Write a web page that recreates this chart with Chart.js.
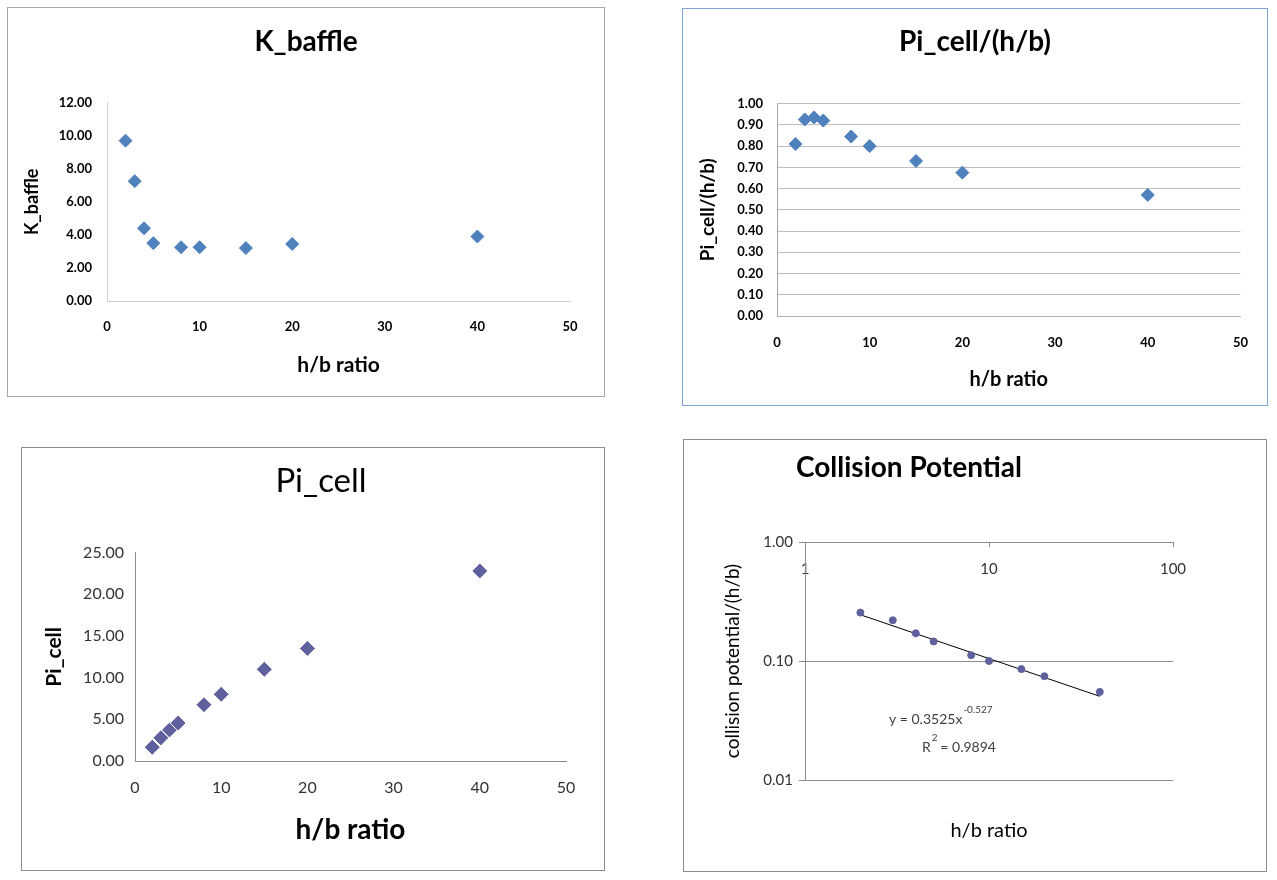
<!DOCTYPE html>
<html>
<head>
<meta charset="utf-8">
<script src="https://cdn.jsdelivr.net/npm/chart.js@4.4.0/dist/chart.umd.min.js"></script>
<style>
    body { margin: 0; background: #fff; width: 1277px; height: 880px; position: relative; overflow: hidden; }
    .box { position: absolute; box-sizing: border-box; border: 1px solid #a6a6a6; background: #fff; }
    .box canvas { position: absolute; left: 0; top: 0; }
</style>
</head>
<body>
<div class="box" style="left:7px; top:7px; width:598px; height:390px;"><canvas id="c_kbaffle" width="596" height="388"></canvas></div>
<div class="box" style="left:682px; top:8px; width:586px; height:398px; border-color:#7fa6d6;"><canvas id="c_pirel" width="584" height="396"></canvas></div>
<div class="box" style="left:21px; top:447px; width:584px; height:424px; border-color:#8c8c8c;"><canvas id="c_picell" width="582" height="422"></canvas></div>
<div class="box" style="left:683px; top:439px; width:584px; height:433px; border-color:#8c8c8c;"><canvas id="c_coll" width="582" height="431"></canvas></div>
<script>
// h/b ratio - the same x values for all four charts
const hb = [2, 3, 4, 5, 8, 10, 15, 20, 40];

const kBaffle = [9.7, 7.25, 4.4, 3.5, 3.25, 3.25, 3.2, 3.45, 3.9];
const piCellRel = [0.81, 0.925, 0.935, 0.92, 0.845, 0.80, 0.73, 0.675, 0.57];
const piCell = [1.65, 2.78, 3.72, 4.55, 6.75, 8.0, 11.0, 13.5, 22.8];
const collision = [0.255, 0.22, 0.171, 0.146, 0.112, 0.100, 0.0855, 0.0745, 0.055];

// power trend line y = 0.3525x^-0.527, its two ends
const trendX = [2, 40];
const trendY = [0.2446, 0.0505];

const xTicksLin = [0, 10, 20, 30, 40, 50];
const yTicksK = [0, 2, 4, 6, 8, 10, 12];
const yTicksRel = [0, 0.1, 0.2, 0.3, 0.4, 0.5, 0.6, 0.7, 0.8, 0.9, 1.0];
const yTicksPi = [0, 5, 10, 15, 20, 25];
const xTicksLog = [1, 10, 100];
const yTicksLog = [0.01, 0.1, 1];

const FONT = "Lato, 'Open Sans', sans-serif";

Chart.defaults.font.family = FONT;
Chart.defaults.color = '#000';
Chart.defaults.animation = false;

function toPoints(xs, ys) {
    let pts = [];
    for (let i = 0; i < xs.length && i < ys.length; i++) {
        pts.push({x: xs[i], y: ys[i]});
    }
    return pts;
}

function fixTicks(values) {
    return function(scale) {
        scale.ticks = values.map(v => ({value: v}));
    }
}

function fixWidth(w) {
    return function(scale) { scale.width = w; }
}

function fixHeight(h) {
    return function(scale) { scale.height = h; }
}

function twoDec(v) {
    return Number(v).toFixed(2);
}

// empty axis on the right, only keeps space so the title stays centred on the whole box
function spacer(w) {
    return {
        type: 'linear', position: 'right',
        afterFit: fixWidth(w),
        grid: {display: false, drawTicks: false},
        border: {display: false},
        ticks: {display: false}
    };
}

// ---------- K_baffle ----------
new Chart(document.getElementById('c_kbaffle'), {
    type: 'scatter',
    data: {
        datasets: [{
            data: toPoints(hb, kBaffle),
            pointStyle: 'rectRot',
            pointRadius: 6.5,
            backgroundColor: '#4f81bd',
            borderColor: '#4f81bd',
            borderWidth: 1
        }]
    },
    options: {
        responsive: false,
        layout: {padding: 0},
        plugins: {
            legend: {display: false},
            tooltip: {enabled: false},
            title: {
                display: true,
                text: 'K_baffle',
                font: {size: 28, weight: 'bold'},
                color: '#000',
                padding: {top: 17, bottom: 44}
            }
        },
        scales: {
            x: {
                type: 'linear', min: 0, max: 50,
                afterBuildTicks: fixTicks(xTicksLin),
                afterFit: fixHeight(95),
                grid: {display: false, drawTicks: false},
                border: {color: '#d0d0d0'},
                ticks: {padding: 18, font: {size: 13, weight: 'bold'}, color: '#000'},
                title: {display: true, text: 'h/b ratio', font: {size: 21, weight: 'bold'}, color: '#000', padding: {top: 0, bottom: 18}}
            },
            y: {
                type: 'linear', min: 0, max: 12,
                afterBuildTicks: fixTicks(yTicksK),
                afterFit: fixWidth(99),
                grid: {display: false, drawTicks: false},
                border: {color: '#d0d0d0'},
                ticks: {padding: 15, font: {size: 13, weight: 'bold'}, color: '#000', callback: twoDec},
                title: {display: true, text: 'K_baffle', font: {size: 18, weight: 'bold'}, color: '#000', padding: {top: 13, bottom: 0}}
            },
            yR: spacer(34)
        }
    }
});

// ---------- Pi_cell/(h/b) ----------
new Chart(document.getElementById('c_pirel'), {
    type: 'scatter',
    data: {
        datasets: [{
            data: toPoints(hb, piCellRel),
            pointStyle: 'rectRot',
            pointRadius: 6.5,
            backgroundColor: '#4f81bd',
            borderColor: '#4f81bd',
            borderWidth: 1
        }]
    },
    options: {
        responsive: false,
        layout: {padding: 0},
        plugins: {
            legend: {display: false},
            tooltip: {enabled: false},
            title: {
                display: true,
                text: 'Pi_cell/(h/b)',
                font: {size: 28, weight: 'bold'},
                color: '#000',
                padding: {top: 16, bottom: 45}
            }
        },
        scales: {
            x: {
                type: 'linear', min: 0, max: 50,
                afterBuildTicks: fixTicks(xTicksLin),
                afterFit: fixHeight(89),
                grid: {display: false, drawTicks: false},
                border: {color: '#b0b0b0'},
                ticks: {padding: 19, font: {size: 13, weight: 'bold'}, color: '#000'},
                title: {display: true, text: 'h/b ratio', font: {size: 20, weight: 'bold'}, color: '#000', padding: {top: 0, bottom: 13}}
            },
            y: {
                type: 'linear', min: 0, max: 1,
                afterBuildTicks: fixTicks(yTicksRel),
                afterFit: fixWidth(94),
                grid: {color: '#bfbfbf', drawTicks: false},
                border: {color: '#a6a6a6'},
                ticks: {padding: 14, font: {size: 13, weight: 'bold'}, color: '#000', callback: twoDec},
                title: {display: true, text: 'Pi_cell/(h/b)', font: {size: 19, weight: 'bold'}, color: '#000', padding: {top: 13, bottom: 0}}
            },
            yR: spacer(19)
        }
    }
});

// ---------- Pi_cell ----------
new Chart(document.getElementById('c_picell'), {
    type: 'scatter',
    data: {
        datasets: [{
            data: toPoints(hb, piCell),
            pointStyle: 'rectRot',
            pointRadius: 8,
            backgroundColor: '#60609e',
            borderColor: '#ffffff',
            borderWidth: 1
        }]
    },
    options: {
        responsive: false,
        layout: {padding: {left: 16, right: 0, top: 0, bottom: 0}},
        plugins: {
            legend: {display: false},
            tooltip: {enabled: false},
            title: {
                display: true,
                text: 'Pi_cell',
                font: {size: 33, weight: 'normal'},
                color: '#000',
                padding: {top: 14, bottom: 51}
            }
        },
        scales: {
            x: {
                type: 'linear', min: 0, max: 50,
                afterBuildTicks: fixTicks(xTicksLin),
                afterFit: fixHeight(109),
                grid: {display: false, drawTicks: false},
                border: {color: '#8c8c8c'},
                ticks: {padding: 17, font: {size: 16}, color: '#333'},
                title: {display: true, text: 'h/b ratio', font: {size: 28, weight: 'bold'}, color: '#000', padding: {top: 0, bottom: 23}}
            },
            y: {
                type: 'linear', min: 0, max: 25,
                afterBuildTicks: fixTicks(yTicksPi),
                afterFit: fixWidth(97),
                grid: {display: false, drawTicks: false},
                border: {color: '#8c8c8c'},
                ticks: {padding: 11, font: {size: 16}, color: '#333', callback: twoDec},
                title: {display: true, text: 'Pi_cell', font: {size: 21, weight: 'bold'}, color: '#000', padding: {top: 4, bottom: 0}}
            },
            yR: spacer(38)
        }
    }
});

// ---------- Collision Potential ----------
// title sits left of centre and the trend line equation under the points
const collisionTexts = {
    id: 'collisionTexts',
    afterDatasetsDraw(chart) {
        const ctx = chart.ctx;
        const a = chart.chartArea;
        ctx.save();
        ctx.textBaseline = 'middle';
        ctx.fillStyle = '#000';
        ctx.font = 'bold 28px ' + FONT;
        ctx.fillText('Collision Potential', a.left - 9, 28);

        ctx.fillStyle = '#404040';
        ctx.font = '14px ' + FONT;
        let x = a.left + 84, y = a.top + 177;
        ctx.fillText('y = 0.3525x', x, y);
        let w = ctx.measureText('y = 0.3525x').width;
        ctx.font = '10px ' + FONT;
        ctx.fillText('-0.527', x + w + 1, y - 9);
        x = a.left + 117; y = a.top + 205;
        ctx.font = '14px ' + FONT;
        ctx.fillText('R', x, y);
        w = ctx.measureText('R').width;
        ctx.font = '10px ' + FONT;
        ctx.fillText('2', x + w + 1, y - 9);
        ctx.font = '14px ' + FONT;
        ctx.fillText(' = 0.9894', x + w + 6, y);
        ctx.restore();
    }
};

new Chart(document.getElementById('c_coll'), {
    type: 'scatter',
    data: {
        datasets: [{
            data: toPoints(hb, collision),
            pointStyle: 'circle',
            pointRadius: 3.5,
            backgroundColor: '#60609e',
            borderColor: '#60609e',
            borderWidth: 1
        }, {
            data: toPoints(trendX, trendY),
            showLine: true,
            pointRadius: 0,
            borderColor: '#000',
            borderWidth: 1
        }]
    },
    plugins: [collisionTexts],
    options: {
        responsive: false,
        layout: {padding: {left: 0, right: 0, top: 102, bottom: 0}},
        plugins: {
            legend: {display: false},
            tooltip: {enabled: false},
            title: {display: false}
        },
        scales: {
            x: {
                type: 'logarithmic', min: 1, max: 100,
                // axis crosses at y = 1, labels hang under it
                position: {y: 1},
                afterBuildTicks: fixTicks(xTicksLog),
                grid: {display: true, drawOnChartArea: false, drawTicks: true, tickLength: 4, color: '#8c8c8c'},
                border: {color: '#8c8c8c'},
                ticks: {padding: 14, font: {size: 15}, color: '#333', callback: v => String(v)}
            },
            x2: {
                type: 'linear', position: 'bottom',
                afterFit: fixHeight(91),
                grid: {display: false, drawTicks: false},
                border: {display: false},
                ticks: {display: false},
                title: {display: true, text: 'h/b ratio', font: {size: 20}, color: '#000', padding: {top: 0, bottom: 28}}
            },
            y: {
                type: 'logarithmic', min: 0.01, max: 1,
                afterBuildTicks: fixTicks(yTicksLog),
                afterFit: fixWidth(121),
                grid: {color: '#8c8c8c', drawTicks: true, tickLength: 6},
                border: {color: '#8c8c8c'},
                ticks: {padding: 6, font: {size: 15}, color: '#333', callback: twoDec},
                title: {display: true, text: 'collision potential/(h/b)', font: {size: 19}, color: '#000', padding: {top: 37, bottom: 0}}
            },
            yR: spacer(93)
        }
    }
});
</script>
</body>
</html>
